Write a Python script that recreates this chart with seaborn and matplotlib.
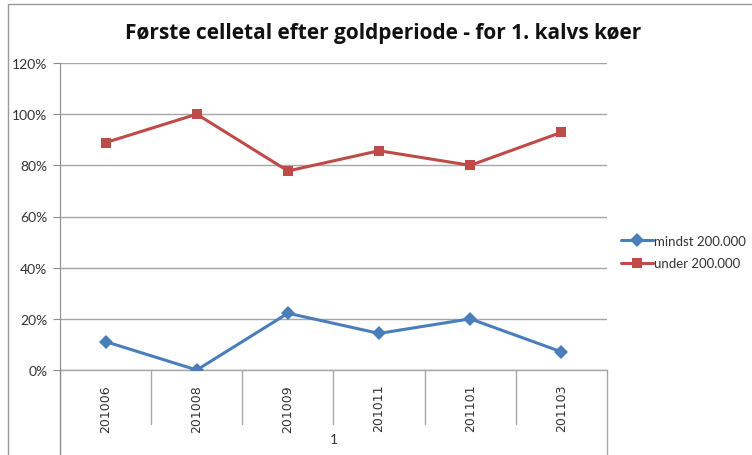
import numpy as np
import pandas as pd
import seaborn as sns
from matplotlib import pyplot as plt
from matplotlib.patches import Rectangle
from matplotlib.ticker import FuncFormatter

# values (share of cows, %)
periods = ['201006', '201008', '201009', '201011', '201101', '201103']
mindst = [11.1, 0.0, 22.2, 14.3, 20.0, 7.1]
under = [88.9, 100.0, 77.8, 85.7, 80.0, 92.9]
series_names = ['mindst 200.000', 'under 200.000']
group_label = '1'
title = 'Første celletal efter goldperiode - for 1. kalvs køer'

df = pd.DataFrame({
    'periode': periods * 2,
    'andel': mindst + under,
    'serie': [series_names[0]] * len(periods) + [series_names[1]] * len(periods),
})

sns.set_style('white')
plt.rcParams['font.family'] = ['Lato', 'DejaVu Sans']

W, H = 752, 456
fig = plt.figure(figsize=(W / 100, H / 100), dpi=100)
ax = fig.add_axes([60 / W, 1 - 371 / H, (607 - 60) / W, (371 - 64) / H])

# outer chart frame
fig.patches.append(Rectangle((8 / W, -0.1), 1.2, 1.1 - 5 / H, transform=fig.transFigure,
                             fill=False, edgecolor='#9a9a9a', linewidth=1.0))

colors = {series_names[0]: '#4A7EBB', series_names[1]: '#BE4B48'}
markers = {series_names[0]: 'D', series_names[1]: 's'}
sns.lineplot(data=df, x='periode', y='andel', hue='serie', style='serie', palette=colors,
             markers=markers, dashes=False, sort=False, linewidth=2.2, markersize=7.5,
             markeredgewidth=0, ax=ax, zorder=3)

ax.set_xlim(-0.5, len(periods) - 0.5)
ax.set_ylim(0, 120)
ax.set_yticks(np.arange(0, 121, 20))
ax.yaxis.set_major_formatter(FuncFormatter(lambda v, p: f'{v:.0f}%'))
ax.grid(axis='y', color='#a6a6a6', linewidth=1.0, zorder=0)
ax.set_xlabel('')
ax.set_ylabel('')

for s in ['top', 'right', 'bottom']:
    ax.spines[s].set_visible(False)
ax.spines['left'].set_color('#8c8c8c')
ax.spines['left'].set_bounds(0, 120)

ax.tick_params(axis='y', which='major', left=True, length=5, color='#8c8c8c',
               labelsize=10, labelcolor='#333333', pad=4)
ax.tick_params(axis='x', length=0, labelsize=9, labelcolor='#333333', pad=10)
plt.setp(ax.get_xticklabels(), rotation=90, family=['DejaVu Sans'])

# category axis box below the plot
tr = ax.get_xaxis_transform()
line_kw = dict(color='#a6a6a6', linewidth=1.0, clip_on=False, transform=tr)
ax.plot([-0.5, len(periods) - 0.5], [0, 0], **line_kw)
for b in np.arange(0.5, len(periods) - 1, 1.0):
    ax.plot([b, b], [0, -0.176], **line_kw)
ax.plot([-0.5, -0.5], [0, -0.28], color='#8c8c8c', linewidth=1.0, clip_on=False, transform=tr)
ax.plot([len(periods) - 0.5] * 2, [0, -0.28], **line_kw)
ax.text((len(periods) - 1) / 2, -0.225, group_label, transform=tr, ha='center', va='center',
        fontsize=10, color='#333333')

fig.text(383 / W, 1 - 33 / H, title, ha='center', va='center', fontsize=15,
         fontweight='bold', color='#111111', family=['Open Sans', 'DejaVu Sans'])

leg = ax.legend(loc='center left', bbox_to_anchor=(612 / W, 1 - 253 / H),
                bbox_transform=fig.transFigure, frameon=False, fontsize=9.5,
                handlelength=2.4, handletextpad=0.1, labelspacing=0.8, borderpad=0.2)
for t in leg.get_texts():
    t.set_color('#333333')

fig.savefig('out.png', dpi=100)
